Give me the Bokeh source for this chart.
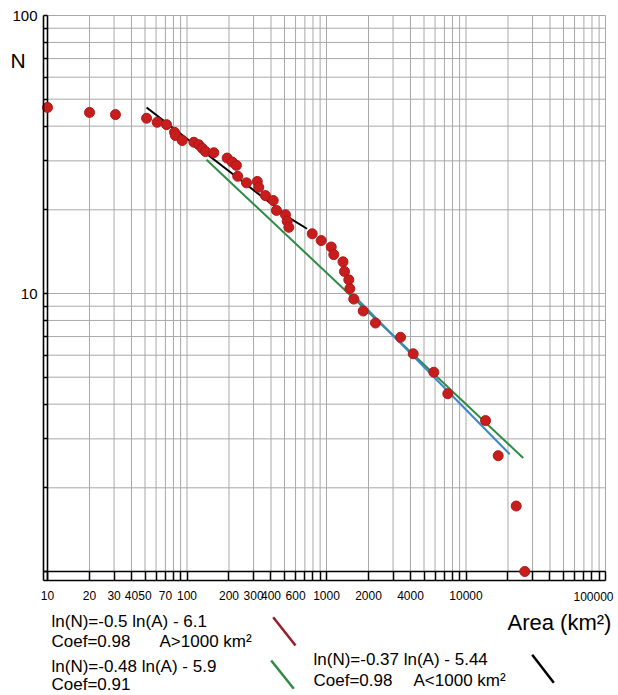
from bokeh.plotting import figure
from bokeh.models import Range1d, FixedTicker, Label, Arrow
from bokeh.embed import file_html
from bokeh.resources import INLINE

# ---- data ----
area = [10, 20, 30.7, 51.3, 61.1, 71.3, 81.4, 82.7, 92.4, 112,
        121.5, 128.5, 135.7, 155.6, 194, 211, 226, 231, 267, 319,
        327, 365, 415, 438, 508, 523, 537, 790, 916, 1081,
        1128, 1313, 1346, 1445, 1469, 1569, 1833, 2245, 3393, 4183,
        5878, 7406, 13800, 17010, 22900, 26390]
count = [46.7, 44.8, 44.0, 42.7, 41.3, 40.5, 38.0, 37.0, 35.5, 35.0,
         34.3, 33.3, 32.4, 32.1, 30.7, 29.7, 28.9, 26.4, 25.0, 25.3,
         24.1, 22.5, 21.6, 19.9, 19.2, 18.2, 17.3, 16.4, 15.5, 14.7,
         13.8, 13.0, 12.0, 11.2, 10.4, 9.55, 8.65, 7.83, 6.96, 6.07,
         5.21, 4.36, 3.49, 2.61, 1.72, 1.0]

# fitted lines
black_area = [51.3, 552, 725]
black_n = [46.7, 18.6, 17.1]
green_area = [138, 25700]
green_n = [30.3, 2.56]
blue_area = [1614, 20600]
blue_n = [9.70, 2.64]

# ticks / tick labels
x_ticks = [m * 10 ** e for e in (1, 2, 3, 4) for m in range(1, 10)] + [100000]
x_labeled = [10, 20, 30, 40, 50, 70, 100, 200, 300, 400, 600, 1000, 2000, 4000, 10000]
y_ticks = [m * 10 ** e for e in (0, 1) for m in range(1, 10)] + [100]
y_labeled = [10, 100]

# legend texts: (text, left x, vertical middle y) in page pixels
legend_lines = [
    ("ln(N)=-0.5 ln(A) - 6.1", 51, 621),
    ("Coef=0.98", 51, 641),
    ("A>1000 km²", 159, 641),
    ("ln(N)=-0.48 ln(A) - 5.9", 51, 666),
    ("Coef=0.91", 51, 684),
    ("ln(N)=-0.37 ln(A) - 5.44", 313, 659),
    ("Coef=0.98", 313, 680),
    ("A<1000 km²", 413, 680),
]

# ---- page geometry (the frame fills the whole canvas) ----
W, H = 617, 694
FONT = "Liberation Sans"
X10_PX, XDEC = 47.0, 139.5      # page x of A=10, pixels per decade
Y100_PX, YDEC = 15.0, 278.0     # page y of N=100, pixels per decade

def xval(px):
    return 10 ** (1 + (px - X10_PX) / XDEC)

def yval(py):
    return 10 ** (2 - (py - Y100_PX) / YDEC)

x_lo, y_lo = xval(43), yval(580)     # outer ruler lines
x_min, x_max = x_ticks[0], x_ticks[-1]
y_min, y_max = y_ticks[0], y_ticks[-1]

p = figure(width=W, height=H, x_axis_type="log", y_axis_type="log",
           x_range=Range1d(xval(0), xval(W)), y_range=Range1d(yval(H), yval(0)),
           output_backend="svg", toolbar_location=None,
           min_border_left=0, min_border_right=0, min_border_top=0, min_border_bottom=0)
p.background_fill_color = "white"
p.border_fill_color = "white"
p.outline_line_color = None
p.xgrid.visible = False
p.ygrid.visible = False

xt = FixedTicker(ticks=x_ticks, minor_ticks=[])
yt = FixedTicker(ticks=y_ticks, minor_ticks=[])

# grid lines, limited to the data area
GRID = "#a8a8a8"
p.segment(x0=x_ticks, y0=[y_min] * len(x_ticks), x1=x_ticks, y1=[y_max] * len(x_ticks),
          line_color=GRID, line_width=1)
p.segment(x0=[x_min] * len(y_ticks), y0=y_ticks, x1=[x_max] * len(y_ticks), y1=y_ticks,
          line_color=GRID, line_width=1)

# rulers: axes fixed at the outer lines
xa = p.xaxis[0]
xa.fixed_location = y_lo
xa.bounds = (x_lo, x_max)
xa.ticker = xt
xa.major_tick_in = 9
xa.major_tick_out = 0
xa.minor_tick_in = 0
xa.minor_tick_out = 0
xa.axis_line_width = 1.6
xa.axis_line_color = "black"
xa.major_tick_line_width = 1.5
xa.major_tick_line_color = "black"
xa.major_label_overrides = {t: (str(t) if t in x_labeled else "") for t in x_ticks}
xa.major_label_text_font = FONT
xa.major_label_text_font_size = "12px"
xa.major_label_text_color = "black"
xa.major_label_standoff = 10

ya = p.yaxis[0]
ya.fixed_location = x_lo
ya.bounds = (y_lo, y_max)
ya.ticker = yt
ya.major_tick_in = 4
ya.major_tick_out = 0
ya.minor_tick_in = 0
ya.minor_tick_out = 0
ya.axis_line_width = 1.6
ya.axis_line_color = "black"
ya.major_tick_line_width = 1.5
ya.major_tick_line_color = "black"
ya.major_label_overrides = {t: (str(t) if t in y_labeled else "") for t in y_ticks}
ya.major_label_text_font = FONT
ya.major_label_text_font_size = "15px"
ya.major_label_text_color = "black"
ya.major_label_standoff = 6

# inner ruler lines
p.line([x_min, x_min], [y_lo, y_max], line_color="black", line_width=1.6)
p.line([x_lo, x_max], [y_min, y_min], line_color="black", line_width=1.6)

# fitted lines
p.line(black_area, black_n, line_color="black", line_width=2)
p.line(green_area, green_n, line_color="#2f8a45", line_width=2)
p.line(blue_area, blue_n, line_color="#3a86c8", line_width=2)

# data points
p.scatter(area, count, size=10, fill_color="#c81d1d", line_color="#b01818", line_width=1)

def lab(text, px, py, size="17px", align="left", font=FONT):
    p.add_layout(Label(x=px, y=H - py, x_units="screen", y_units="screen",
                       text=text, text_font=font, text_font_size=size,
                       text_color="black", text_align=align, text_baseline="middle"))

for t, px, py in legend_lines:
    lab(t, px, py)

lab("Area (km²)", 507, 622, size="22px")
lab("N", 10, 60, size="21px")
# last x tick label, kept inside the canvas
lab("100000", 613, 596, size="12px", align="right")

def slash(x0, y0, x1, y1, color):
    p.add_layout(Arrow(x_start=x0, y_start=H - y0, x_end=x1, y_end=H - y1,
                       start_units="screen", end_units="screen", end=None,
                       line_color=color, line_width=2.5))

slash(272.7, 616.7, 295, 645, "#9b1b2a")
slash(270.7, 660, 293.3, 688.3, "#2f8a45")
slash(531.7, 654.3, 553.3, 682.3, "black")

open("out.html", "w").write(file_html(p, INLINE))
